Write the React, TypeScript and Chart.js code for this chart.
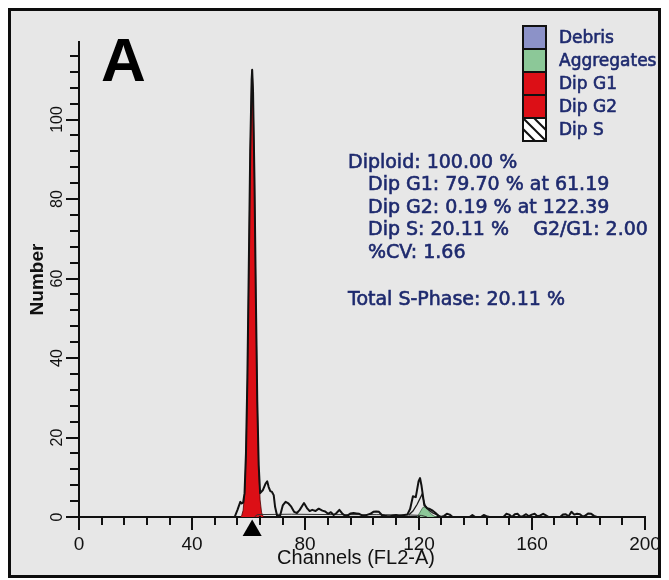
import React, { useEffect, useRef } from 'react';
import { Chart, registerables } from 'chart.js';

Chart.register(...registerables);

// ---------------- data (channel, count) ----------------
const rawHistogram: [number, number][] = [
  [54, 0], [55, 0], [56, 1.8], [57, 3.8], [57.5, 3.4], [58, 3.6], [58.5, 6], [59, 16], [59.5, 35],
  [60, 63], [60.5, 92], [61, 110], [61.19, 112.5], [61.5, 107], [62, 85], [62.5, 55], [63, 29],
  [63.5, 13], [64, 6], [65, 6.8], [66, 8.5], [66.5, 9.0], [67, 7.6], [67.6, 6.5], [68.2, 6.3],
  [68.8, 5.5], [69.3, 2.5], [70, 0.3], [71, 0.2], [72, 2.9], [73, 3.8], [74, 3.4], [75, 2.6],
  [76, 1.3], [77, 1.0], [78, 1.8], [79.5, 3.5], [80.7, 2.1], [81.5, 1.5], [82.4, 1.8], [83.6, 1.5],
  [84.7, 2.1], [86, 1.6], [87, 1.4], [88, 0.8], [89, 1.2], [90, 0.5], [91, 1.0], [92, 1.8],
  [93, 0.9], [94, 0.3], [95, 0.4], [96, 0.9], [97, 1.0], [98, 0.9], [99, 0.8], [100, 0.4],
  [101, 0.3], [102, 0.6], [103, 0.8], [104, 1.3], [105, 1.4], [106, 1.3], [107, 0.5], [108, 0.3],
  [109, 0.2], [110, 0.2], [111, 0.4], [112, 0.5], [113, 0.3], [114, 0.4], [115, 0.5], [116, 0.6],
  [117, 2.0], [118, 5.2], [119, 5.0], [120, 9.0], [120.5, 9.8], [121, 8.0], [122, 3.0], [123, 2.2],
  [124, 2.0], [125, 1.6], [126, 1.0], [127, 0.3], [128, 0], [129, 0.3], [130, 0.8], [131, 0.6],
  [132, 0], [138, 0], [139, 0.5], [140, 0], [142, 0], [143, 0.5], [144, 0.2], [145, 0],
  [150, 0], [151, 0.8], [152, 0.6], [153, 0], [154, 0.7], [155, 0.8], [156, 0], [157, 0.3],
  [158, 0.7], [159, 0.2], [160, 0.6], [161, 0.8], [162, 0.2], [163, 0.4], [164, 0.8], [165, 0.4],
  [166, 0], [170, 0], [171, 0.6], [172, 0.7], [173, 0.2], [174, 1.3], [175, 0.6], [176, 0.8],
  [177, 0.7], [178, 0.1], [179, 0.4], [180, 0.9], [181, 0.8], [182, 0.3], [183, 0],
];

const dipG1Model: [number, number][] = [
  [57, 0], [57.5, 0.4], [58, 1.7], [58.5, 5.6], [59, 15.4], [59.5, 34.4], [60, 62.4], [60.5, 92],
  [61, 110.3], [61.19, 112.5], [61.5, 107.6], [62, 85.4], [62.5, 55.1], [63, 28.9], [63.5, 12.3],
  [64, 4.3], [64.5, 1.2], [65, 0.2], [65.5, 0],
];

const dipG2Model: [number, number][] = [
  [121, 0], [122.39, 0.6], [123.8, 0],
];

const aggregatesModel: [number, number][] = [
  [119.5, 0], [120.5, 1.2], [121.5, 2.4], [122.5, 2.6], [123.5, 1.6], [124.5, 0.7], [125.5, 0.2], [126.5, 0],
];

const g2FitLine: [number, number][] = [
  [116.5, 0.5], [118, 1.5], [119.5, 3.2], [121.2, 5.7], [122.3, 2.9], [123.5, 1.8], [125, 1.0], [127, 0.4], [128, 0],
];

const dipSModel: [number, number][] = [
  [62, 0], [63, 0.6], [75, 0.7], [90, 0.6], [105, 0.6], [117, 0.5], [121, 0.4], [123, 0],
];

const g1MarkerChannel = 61.19;
const markerLevel = -3.4;

const legendLabels = ['Debris', 'Aggregates', 'Dip G1', 'Dip G2', 'Dip S'];
const legendFills = ['#8c92c8', '#8cc898', '#dc0f16', '#dc0f16', 'hatch'];

const statsHeader = 'Diploid: 100.00 %';
const statsDetails = [
  'Dip G1: 79.70 % at 61.19',
  'Dip G2: 0.19 % at 122.39',
  'Dip S: 20.11 %    G2/G1: 2.00',
  '%CV: 1.66',
];
const statsTotal = 'Total S-Phase: 20.11 %';

const panelLabel = 'A';
const xAxisTitle = 'Channels (FL2-A)';
const yAxisTitle = 'Number';

const X_MIN = 0;
const X_MAX = 200;
const X_STEP = 8;
const X_MAJOR = 40;
const Y_MIN = 0;
const Y_MAX = 119.5;
const Y_STEP = 4;
const Y_MAJOR = 20;

const RED = '#dc0f16';
const INK = '#111111';
const NAVY = '#1e2a6e';
const PAPER = '#e7e7e7';

const W = 653;
const H = 570;

const isMultiple = (v: number, m: number) => Math.abs(v / m - Math.round(v / m)) < 1e-6;
const toXY = (pairs: [number, number][]) => pairs.map(([x, y]) => ({ x, y }));

function heavyText(ctx: CanvasRenderingContext2D, text: string, x: number, y: number) {
  ctx.fillText(text, x, y);
  ctx.strokeText(text, x, y);
}

const overlayPlugin = {
  id: 'overlay',
  beforeDraw(chart: any) {
    const ctx: CanvasRenderingContext2D = chart.ctx;
    ctx.save();
    ctx.fillStyle = PAPER;
    ctx.fillRect(0, 0, chart.width, chart.height);
    ctx.restore();
  },
  afterDraw(chart: any) {
    const ctx: CanvasRenderingContext2D = chart.ctx;
    const xs = chart.scales.x;
    const ys = chart.scales.y;
    const area = chart.chartArea;
    ctx.save();

    // frame
    ctx.strokeStyle = '#0d0d0d';
    ctx.lineWidth = 3;
    ctx.strokeRect(1.5, 1.5, chart.width - 3, chart.height - 3);

    // tick marks (minor/major) and x tick labels
    ctx.strokeStyle = INK;
    ctx.fillStyle = INK;
    ctx.lineWidth = 2;
    ctx.lineCap = 'butt';
    ctx.font = '19px "Liberation Sans", Arial, sans-serif';
    ctx.textAlign = 'center';
    ctx.textBaseline = 'alphabetic';
    xs.ticks.forEach((t: any) => {
      const px = Math.round(xs.getPixelForValue(t.value));
      const major = isMultiple(t.value, X_MAJOR);
      const len = major ? 13 : 8;
      ctx.beginPath();
      ctx.moveTo(px, area.bottom - 1);
      ctx.lineTo(px, area.bottom + len);
      ctx.stroke();
      if (major) ctx.fillText(String(Math.round(t.value)), px, area.bottom + 32.5);
    });
    ys.ticks.forEach((t: any) => {
      const py = Math.round(ys.getPixelForValue(t.value));
      const len = isMultiple(t.value, Y_MAJOR) ? 13 : 9;
      ctx.beginPath();
      ctx.moveTo(area.left - len, py);
      ctx.lineTo(area.left + 1, py);
      ctx.stroke();
    });

    // x-axis title
    ctx.fillStyle = INK;
    ctx.font = '20px "Liberation Sans", Arial, sans-serif';
    ctx.textAlign = 'center';
    ctx.textBaseline = 'alphabetic';
    ctx.fillText(xAxisTitle, 348, 556);

    // panel label
    ctx.fillStyle = '#000';
    ctx.font = 'bold 62px "Liberation Sans", Arial, sans-serif';
    ctx.textAlign = 'left';
    ctx.fillText(panelLabel, 93, 73);

    // legend
    const boxX = 515;
    const boxW = 23;
    const rowH = 23;
    const top0 = 18;
    ctx.font = '17px "DejaVu Sans", sans-serif';
    ctx.textBaseline = 'middle';
    legendLabels.forEach((label, i) => {
      const y0 = top0 + i * rowH;
      const fill = legendFills[i];
      if (fill === 'hatch') {
        ctx.fillStyle = '#ffffff';
        ctx.fillRect(boxX, y0, boxW, rowH);
        ctx.save();
        ctx.beginPath();
        ctx.rect(boxX, y0, boxW, rowH);
        ctx.clip();
        ctx.strokeStyle = INK;
        ctx.lineWidth = 2;
        for (let k = -1; k <= 1; k++) {
          const off = k * 11;
          ctx.beginPath();
          ctx.moveTo(boxX + off, y0);
          ctx.lineTo(boxX + off + rowH, y0 + rowH);
          ctx.stroke();
        }
        ctx.restore();
      } else {
        ctx.fillStyle = fill;
        ctx.fillRect(boxX, y0, boxW, rowH);
      }
      ctx.strokeStyle = INK;
      ctx.lineWidth = 2;
      ctx.strokeRect(boxX, y0, boxW, rowH);
      ctx.fillStyle = NAVY;
      ctx.strokeStyle = NAVY;
      ctx.lineWidth = 0.6;
      heavyText(ctx, label, 551, y0 + rowH / 2 + 1);
    });

    // stats block
    ctx.font = '19px "DejaVu Sans", sans-serif';
    ctx.fillStyle = NAVY;
    ctx.strokeStyle = NAVY;
    ctx.lineWidth = 0.6;
    ctx.textBaseline = 'middle';
    heavyText(ctx, statsHeader, 340, 155);
    statsDetails.forEach((line, i) => {
      heavyText(ctx, line, 360, 177 + i * 22.6);
    });
    heavyText(ctx, statsTotal, 340, 292);

    ctx.restore();
  },
};

export default function App() {
  const ref = useRef<HTMLCanvasElement>(null);

  useEffect(() => {
    const canvas = ref.current;
    if (!canvas) return;
    const chart = new Chart(canvas, {
      type: 'line',
      data: {
        datasets: [
          {
            label: 'Data',
            data: toXY(rawHistogram),
            borderColor: '#121212',
            borderWidth: 2,
            pointRadius: 0,
            fill: false,
            borderJoinStyle: 'round',
            order: 1,
          },
          {
            label: 'G1 position',
            data: [{ x: g1MarkerChannel, y: markerLevel }],
            showLine: false,
            pointStyle: 'triangle',
            pointRadius: 11,
            pointHoverRadius: 30,
            pointBackgroundColor: '#000',
            pointBorderWidth: 0,
            clip: false,
            order: 0,
          },
          {
            label: 'Dip S',
            data: toXY(dipSModel),
            borderColor: '#333',
            borderWidth: 1,
            pointRadius: 0,
            fill: false,
            order: 2,
          },
          {
            label: 'G2 fit',
            data: toXY(g2FitLine),
            borderColor: '#1a1a1a',
            borderWidth: 1.3,
            pointRadius: 0,
            fill: false,
            order: 2,
          },
          {
            label: 'Aggregates',
            data: toXY(aggregatesModel),
            borderColor: '#3d6b48',
            borderWidth: 0.8,
            backgroundColor: '#8cc898',
            fill: 'origin',
            pointRadius: 0,
            order: 3,
          },
          {
            label: 'Dip G2',
            data: toXY(dipG2Model),
            borderColor: '#5a0000',
            borderWidth: 0.8,
            backgroundColor: RED,
            fill: 'origin',
            pointRadius: 0,
            order: 4,
          },
          {
            label: 'Dip G1',
            data: toXY(dipG1Model),
            borderColor: '#4a0000',
            borderWidth: 0.8,
            backgroundColor: RED,
            fill: 'origin',
            pointRadius: 0,
            order: 5,
          },
        ],
      } as any,
      options: {
        responsive: false,
        animation: false,
        events: [],
        layout: { autoPadding: false, padding: { top: 34, right: 16, left: 0, bottom: 0 } },
        plugins: {
          legend: { display: false },
          tooltip: { enabled: false },
        },
        scales: {
          x: {
            type: 'linear',
            min: X_MIN,
            max: X_MAX,
            afterFit: (s: any) => {
              s.height = 61;
            },
            grid: { display: false, drawTicks: false },
            border: { display: true, color: INK, width: 2 },
            ticks: {
              display: false,
              stepSize: X_STEP,
              autoSkip: false,
              maxRotation: 0,
              minRotation: 0,
              includeBounds: false,
            },
          },
          y: {
            type: 'linear',
            min: Y_MIN,
            max: Y_MAX,
            afterFit: (s: any) => {
              s.width = 71;
            },
            grid: { display: false, drawTicks: false },
            border: { display: true, color: INK, width: 2 },
            ticks: {
              stepSize: Y_STEP,
              autoSkip: false,
              minRotation: 90,
              maxRotation: 90,
              crossAlign: 'center',
              includeBounds: false,
              padding: 8,
              color: INK,
              font: { size: 16, family: '"Liberation Sans", Arial, sans-serif' },
              callback: (v: any) => (isMultiple(Number(v), Y_MAJOR) ? String(Math.round(Number(v))) : ''),
            },
            title: {
              display: true,
              text: yAxisTitle,
              color: INK,
              font: { size: 19, weight: 'bold', family: '"Liberation Sans", Arial, sans-serif' },
              padding: { top: 18, bottom: 0 },
            },
          },
        },
      } as any,
      plugins: [overlayPlugin],
    });
    return () => chart.destroy();
  }, []);

  return (
    <div style={{ width: W, height: H }}>
      <canvas ref={ref} width={W} height={H} style={{ display: 'block', width: W, height: H }} />
    </div>
  );
}
